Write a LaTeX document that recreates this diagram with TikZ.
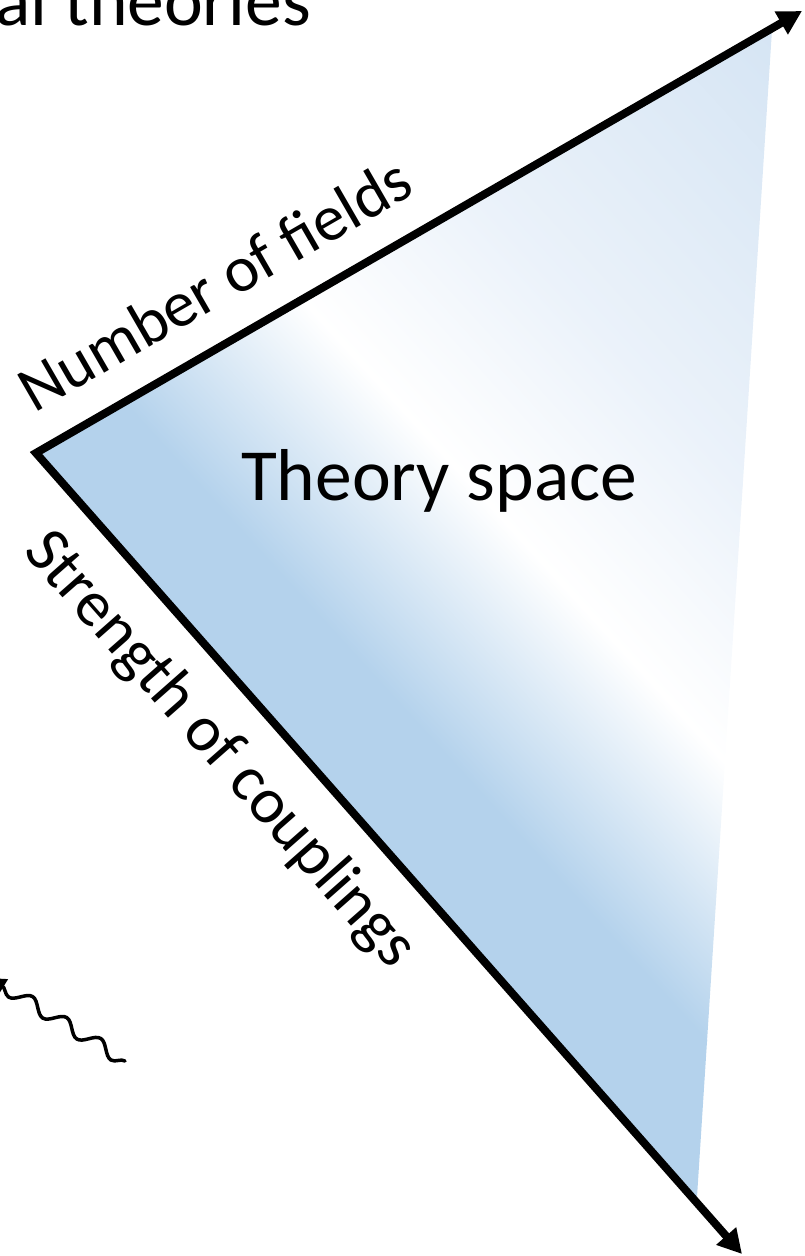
\documentclass[tikz,border=0pt]{standalone}
\usepackage{fontspec}
\setmainfont{Carlito}
\usetikzlibrary{arrows.meta,decorations.pathmorphing}
\definecolor{tblue}{HTML}{B4D2EC}
\definecolor{tlight}{HTML}{CCDFF1}
\definecolor{tpale}{HTML}{EBF2FA}
\tikzset{
  axisline/.style={line width=8pt, line join=miter,
    {Triangle[length=24pt,width=25pt]}-{Triangle[length=24pt,width=25pt]}},
  biglabel/.style={inner sep=0pt, font=\fontsize{73.5}{80}\selectfont},
  axislabel/.style={inner sep=0pt, font=\fontsize{65}{70}\selectfont},
  wavy/.style={line width=3.5pt, line cap=round, decorate,
    decoration={snake, segment length=40pt, amplitude=6.5pt, post length=10pt},
    -{Triangle[length=16pt,width=16pt]}}
}
\begin{document}
\begin{tikzpicture}[x=1pt,y=-1pt]
\useasboundingbox (0,0) rectangle (805,1256);
\coordinate (O) at (36,453);
\coordinate (F) at (802,11);
\coordinate (C) at (742,1254);
\coordinate (TR) at (772,30);
\coordinate (BR) at (697,1197);
\coordinate (W1) at (125,1061);
\coordinate (W0) at (-10,978);
% shaded theory space
\begin{scope}
  \clip (O) -- (TR) -- (BR) -- cycle;
  \begin{scope}[transform canvas={rotate=42.4}]
    \fill[tblue] (-500,-2500) rectangle (-179,2500);
    \shade[left color=tblue,right color=white] (-180,-2500) rectangle (21,2500);
    \shade[left color=white,right color=tpale] (20,-2500) rectangle (221,2500);
    \shade[left color=tpale,right color=tlight] (220,-2500) rectangle (700,2500);
  \end{scope}
\end{scope}
% axes
\draw[axisline] (F) -- (O) -- (C);
% labels
\node[biglabel, anchor=base west] (ts) at (241,500) {Theory space};
\node[axislabel, anchor=base west, rotate=30] (nf) at (34,414) {Number of fields};
\node[axislabel, anchor=base west, rotate=-48.6] (sc) at (22,552) {Strength of couplings};
\node[biglabel, anchor=base east] (top) at (311,25) {al theories};
% wavy line
\draw[wavy] (W1) -- (W0);
\end{tikzpicture}
\end{document}
